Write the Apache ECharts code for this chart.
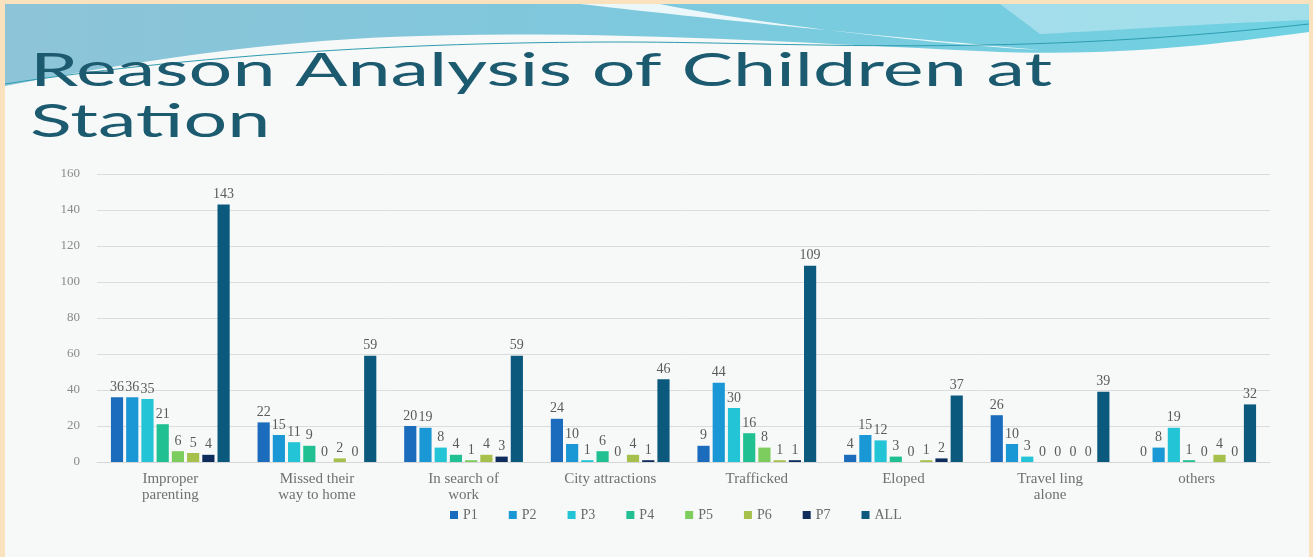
<!DOCTYPE html>
<html>
<head>
<meta charset="utf-8">
<script src="https://cdn.jsdelivr.net/npm/echarts@6/dist/echarts.min.js"></script>
<style>
  html, body { margin: 0; padding: 0; background: #fbe2bf; }
  #chart { width: 1313px; height: 557px; }
</style>
</head>
<body>
<div id="chart"></div>
<script>
// categories and series values
var categories = [
  "Improper\nparenting", "Missed their\nway to home", "In search of\nwork",
  "City attractions", "Trafficked", "Eloped", "Travel ling\nalone", "others"
];
var seriesNames = ["P1", "P2", "P3", "P4", "P5", "P6", "P7", "ALL"];
var p1 = [36, 22, 20, 24, 9, 4, 26, 0];
var p2 = [36, 15, 19, 10, 44, 15, 10, 8];
var p3 = [35, 11, 8, 1, 30, 12, 3, 19];
var p4 = [21, 9, 4, 6, 16, 3, 0, 1];
var p5 = [6, 0, 1, 0, 8, 0, 0, 0];
var p6 = [5, 2, 4, 4, 1, 1, 0, 4];
var p7 = [4, 0, 3, 1, 1, 2, 0, 0];
var all = [143, 59, 59, 46, 109, 37, 39, 32];
var yTicks = [0, 20, 40, 60, 80, 100, 120, 140, 160];

var colors = ["#1c6cbd", "#1a98d5", "#22c4d5", "#20c092", "#7ccd5e", "#a5c14c", "#0e2d5c", "#0b5a7e"];
var serif = "'Liberation Serif', 'DejaVu Serif', serif";

// sample a cubic bezier into points (only for the slide decoration)
function bez(a, b, c, d, n) {
  var pts = [];
  for (var i = 0; i <= n; i++) {
    var t = i / n, u = 1 - t;
    pts.push([
      u * u * u * a[0] + 3 * u * u * t * b[0] + 3 * u * t * t * c[0] + t * t * t * d[0],
      u * u * u * a[1] + 3 * u * u * t * b[1] + 3 * u * t * t * c[1] + t * t * t * d[1]
    ]);
  }
  return pts;
}

// main blue band: top edge then lower wavy edge right -> left
var wave = [[5, 4], [1309, 4]]
  .concat(bez([1309, 32], [1220, 44], [1120, 56], [1000, 52], 20))
  .concat(bez([1000, 52], [820, 44], [620, 30], [420, 36], 20))
  .concat(bez([420, 36], [260, 40], [110, 66], [5, 86], 20));
var streak = bez([580, 4], [720, 20], [880, 36], [1040, 50], 30)
  .concat(bez([1040, 50], [960, 46], [780, 28], [660, 4], 30));
var lightRight = [[1000, 4], [1309, 4]]
  .concat(bez([1309, 20], [1200, 24], [1120, 30], [1040, 34], 20));
var thinLine = bez([5, 84], [200, 54], [420, 42], [620, 42], 30)
  .concat(bez([620, 42], [800, 42], [1000, 58], [1309, 24], 30));

var chart = echarts.init(document.getElementById("chart"));

var values = [p1, p2, p3, p4, p5, p6, p7, all];
var series = values.map(function (v, i) {
  return {
    name: seriesNames[i],
    type: "bar",
    data: v,
    barGap: "25%",
    barCategoryGap: "19%",
    itemStyle: { color: colors[i] },
    label: {
      show: true,
      position: "top",
      distance: 3,
      color: "#5a5a5a",
      fontFamily: serif,
      fontSize: 14
    }
  };
});

var option = {
  backgroundColor: "#fbe2bf",
  color: colors,
  graphic: [
    { type: "rect", shape: { x: 5, y: 4, width: 1304, height: 560 }, style: { fill: "#f7f8f8" }, z: -10 },
    {
      type: "polygon",
      z: -9,
      shape: { points: wave },
      style: {
        fill: new echarts.graphic.LinearGradient(0, 0, 1, 1, [
          { offset: 0, color: "#8ec4d8" },
          { offset: 0.4, color: "#80c7dc" },
          { offset: 1, color: "#6fd2e2" }
        ])
      }
    },
    { type: "polygon", z: -8, shape: { points: lightRight }, style: { fill: "rgba(195,232,242,0.6)" } },
    { type: "polygon", z: -8, shape: { points: streak }, style: { fill: "rgba(255,255,255,0.85)" } },
    { type: "polyline", z: -7, shape: { points: thinLine }, style: { stroke: "#2d9db0", lineWidth: 1 } },
    // title
    {
      type: "text",
      x: 30,
      y: 46,
      scaleX: 1.68,
      z: 5,
      style: {
        text: "Reason Analysis of Children at\nStation",
        font: "46px Lato, 'Open Sans', sans-serif",
        lineHeight: 51,
        fill: "#1b5a6f"
      }
    }
  ],
  legend: {
    bottom: 30,
    left: 445,
    itemWidth: 8,
    itemHeight: 8,
    itemGap: 31,
    icon: "rect",
    data: seriesNames,
    textStyle: { color: "#6a6a6a", fontFamily: serif, fontSize: 14 }
  },
  grid: { left: 97, right: 43, top: 174, bottom: 95 },
  xAxis: {
    type: "category",
    data: categories,
    axisLine: { lineStyle: { color: "#d6d6d6" } },
    axisTick: { show: false },
    axisLabel: {
      interval: 0,
      margin: 9,
      color: "#707070",
      fontFamily: serif,
      fontSize: 15,
      lineHeight: 16
    }
  },
  yAxis: {
    type: "value",
    min: yTicks[0],
    max: yTicks[yTicks.length - 1],
    interval: yTicks[1] - yTicks[0],
    axisLine: { show: false },
    axisTick: { show: false },
    splitLine: { lineStyle: { color: "#dcdcdc" } },
    axisLabel: {
      margin: 17,
      color: "#8a8a8a",
      fontFamily: serif,
      fontSize: 13
    }
  },
  series: series
};

chart.setOption(option);
</script>
</body>
</html>
